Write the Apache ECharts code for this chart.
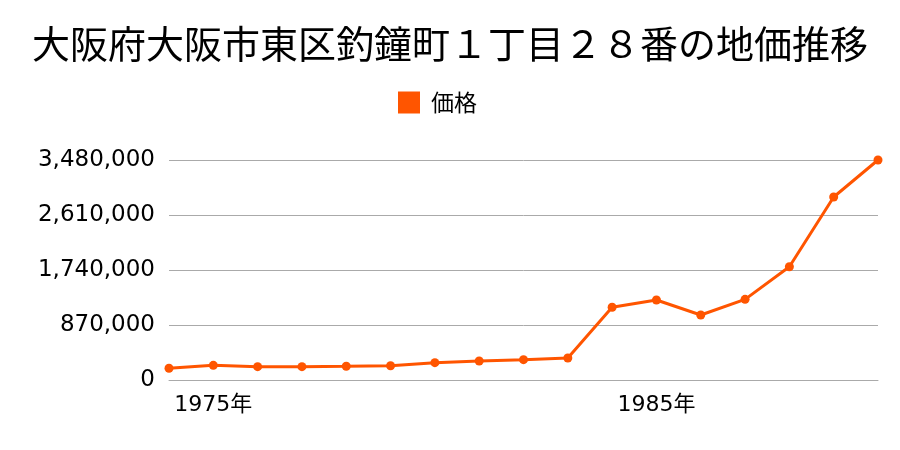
<!DOCTYPE html>
<html>
<head>
<meta charset="utf-8">
<script src="https://cdn.jsdelivr.net/npm/echarts@6/dist/echarts.min.js"></script>
<style>html,body{margin:0;padding:0;background:#fff}#c{width:900px;height:450px}</style>
</head>
<body>
<div id="c"></div>
<script>
const titleText = '大阪府大阪市東区釣鐘町１丁目２８番の地価推移';
const seriesName = '価格';
const years = [1974,1975,1976,1977,1978,1979,1980,1981,1982,1983,1984,1985,1986,1987,1988,1989,1990];
const prices = [185000,232000,211000,211000,217000,226000,274000,300000,322000,348000,1150000,1265000,1028000,1276000,1792000,2895000,3480000];
const yTicks = [0,870000,1740000,2610000,3480000];
const xLabelYears = [1975,1985];

const FONT = '"Noto Sans CJK JP", sans-serif';
const NUMFONT = '"DejaVu Sans", "Noto Sans CJK JP", sans-serif';
const chart = echarts.init(document.getElementById('c'));
chart.setOption({
  animation: false,
  title: {
    text: titleText, left: 'center', top: 20,
    textStyle: {fontFamily: FONT, fontSize: 38, fontWeight: 'normal', color: '#000'}
  },
  legend: {
    data: [seriesName], top: 91, left: 398, padding: 0,
    icon: 'rect', itemWidth: 22, itemHeight: 22, itemGap: 10,
    textStyle: {fontFamily: FONT, fontSize: 23, color: '#000', padding: [0, 0, 0, 6]}
  },
  grid: {left: 169, right: 22, top: 160, bottom: 70, containLabel: false},
  xAxis: {
    type: 'category', data: years, boundaryGap: false,
    axisLine: {lineStyle: {color: '#aaa', width: 1}},
    axisTick: {show: false},
    axisLabel: {
      interval: 0, margin: 14, color: '#000', fontFamily: NUMFONT, fontSize: 22,
      formatter: function (v) { return xLabelYears.indexOf(Number(v)) >= 0 ? v + '年' : ''; }
    }
  },
  yAxis: {
    type: 'value', min: yTicks[0], max: yTicks[yTicks.length - 1],
    interval: yTicks[1] - yTicks[0],
    axisLine: {show: false}, axisTick: {show: false},
    splitLine: {lineStyle: {color: '#aaa', width: 1}},
    axisLabel: {
      margin: 14, color: '#000', fontFamily: NUMFONT, fontSize: 23, padding: [3, 0, 0, 0],
      formatter: function (v) { return v.toLocaleString('en-US'); }
    }
  },
  series: [{
    name: seriesName, type: 'line', data: prices,
    symbol: 'circle', symbolSize: 9, clip: false,
    lineStyle: {color: '#ff5500', width: 3},
    itemStyle: {color: '#ff5500'}
  }]
});
</script>
</body>
</html>
